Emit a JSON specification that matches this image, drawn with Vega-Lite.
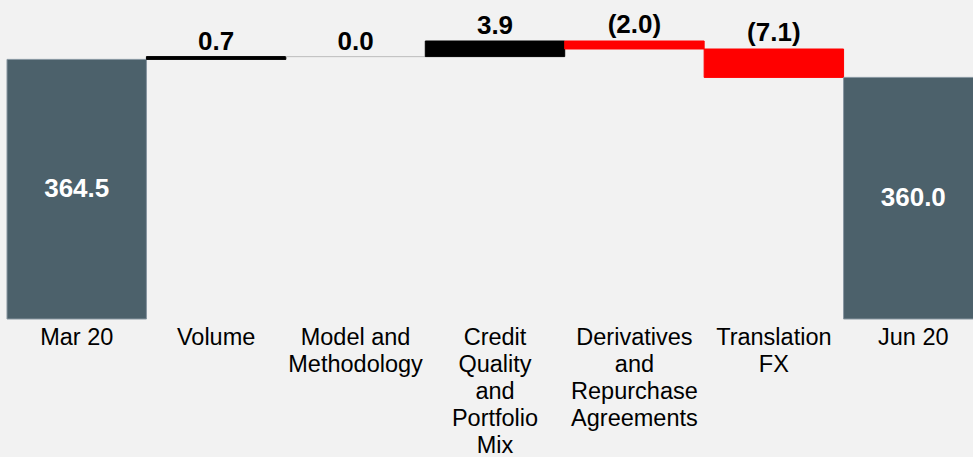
{
  "$schema": "https://vega.github.io/schema/vega-lite/v6.json",
  "width": 966,
  "height": 319,
  "autosize": {"type": "none"},
  "padding": {"left": 7, "top": 0, "right": 0, "bottom": 138},
  "background": "#f2f2f2",
  "config": {"view": {"stroke": null}, "font": "Liberation Sans"},
  "data": {
    "values": [
      {"category": "Mar 20", "type": "total", "start": 0, "end": 364.5, "label": "364.5"},
      {"category": "Volume", "type": "increase", "start": 364.5, "end": 365.2, "label": "0.7"},
      {"category": "Model and Methodology", "type": "zero", "start": 365.2, "end": 365.2, "label": "0.0"},
      {"category": "Credit Quality and Portfolio Mix", "type": "increase", "start": 365.2, "end": 369.1, "label": "3.9"},
      {"category": "Derivatives and Repurchase Agreements", "type": "decrease", "start": 369.1, "end": 367.1, "label": "(2.0)"},
      {"category": "Translation FX", "type": "decrease", "start": 367.1, "end": 360.0, "label": "(7.1)"},
      {"category": "Jun 20", "type": "total", "start": 0, "end": 360.0, "label": "360.0"}
    ]
  },
  "encoding": {
    "x": {
      "field": "category",
      "type": "nominal",
      "sort": null,
      "scale": {"range": [0, 976], "paddingInner": 0, "paddingOuter": 0},
      "axis": {
        "title": null,
        "domain": false,
        "ticks": false,
        "labelAngle": 0,
        "labelFont": "Liberation Sans",
        "labelFontSize": 23.5,
        "labelLineHeight": 27,
        "labelColor": "#000000",
        "labelPadding": 6,
        "labelOverlap": false,
        "labelFlush": false,
        "labelLimit": 300,
        "labelExpr": "datum.label == 'Model and Methodology' ? ['Model and', 'Methodology'] : (length(datum.label) > 8 ? split(datum.label, ' ') : datum.label)"
      }
    }
  },
  "layer": [
    {
      "mark": {"type": "bar", "strokeWidth": 1},
      "encoding": {
        "y": {
          "field": "start",
          "type": "quantitative",
          "scale": {"domain": [299.6, 379.35], "nice": false, "zero": false, "clamp": true},
          "axis": null
        },
        "y2": {"field": "end"},
        "color": {
          "field": "type",
          "type": "nominal",
          "scale": {"domain": ["total", "increase", "decrease", "zero"], "range": ["#4c616b", "#000000", "#ff0000", "#c8c8c8"]},
          "legend": null
        },
        "stroke": {
          "field": "type",
          "type": "nominal",
          "scale": {"domain": ["total", "increase", "decrease", "zero"], "range": ["#8796a0", "#000000", "#ff0000", "#c4c4c4"]},
          "legend": null
        }
      }
    },
    {
      "transform": [{"filter": "datum.type == 'total'"}],
      "mark": {"type": "text", "font": "Liberation Sans", "fontWeight": "bold", "fontSize": 26, "baseline": "middle", "align": "center", "color": "#ffffff"},
      "encoding": {
        "y": {"value": {"expr": "(scale('y', datum.end) + height) / 2"}},
        "text": {"field": "label"}
      }
    },
    {
      "transform": [{"filter": "datum.type == 'increase' || datum.type == 'zero'"}],
      "mark": {"type": "text", "font": "Liberation Sans", "fontWeight": "bold", "fontSize": 26, "baseline": "alphabetic", "align": "center", "color": "#000000", "dy": -7},
      "encoding": {
        "y": {"field": "end", "type": "quantitative"},
        "text": {"field": "label"}
      }
    },
    {
      "transform": [{"filter": "datum.type == 'decrease'"}],
      "mark": {"type": "text", "font": "Liberation Sans", "fontWeight": "bold", "fontSize": 26, "baseline": "alphabetic", "align": "center", "color": "#000000", "dy": -8},
      "encoding": {
        "y": {"field": "start", "type": "quantitative"},
        "text": {"field": "label"}
      }
    }
  ]
}
